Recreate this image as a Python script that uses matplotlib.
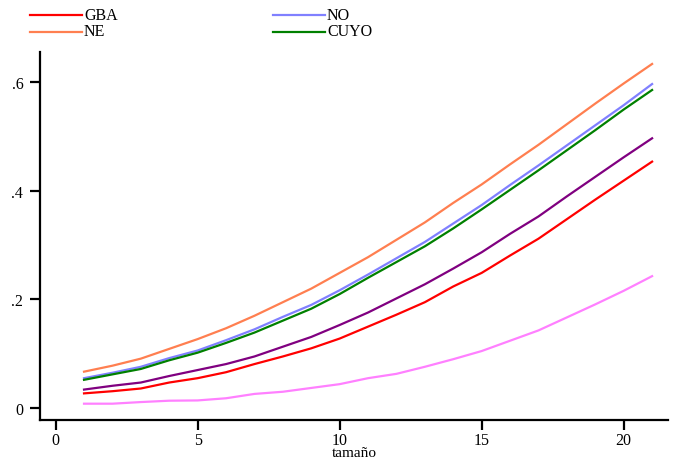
import matplotlib
matplotlib.use("Agg")
import matplotlib.pyplot as plt
from matplotlib.lines import Line2D

x = list(range(1, 22))
gba = [0.027, 0.031, 0.036, 0.047, 0.055, 0.066, 0.081, 0.095, 0.110, 0.128, 0.150,
       0.172, 0.195, 0.224, 0.249, 0.281, 0.312, 0.348, 0.384, 0.419, 0.454]
no = [0.055, 0.065, 0.076, 0.092, 0.106, 0.125, 0.145, 0.168, 0.190, 0.217, 0.246,
      0.276, 0.306, 0.340, 0.374, 0.411, 0.447, 0.484, 0.521, 0.558, 0.597]
ne = [0.067, 0.078, 0.091, 0.109, 0.127, 0.147, 0.170, 0.195, 0.220, 0.249, 0.278,
      0.310, 0.342, 0.378, 0.412, 0.449, 0.485, 0.523, 0.561, 0.598, 0.634]
cuyo = [0.052, 0.062, 0.072, 0.088, 0.102, 0.120, 0.139, 0.161, 0.183, 0.210, 0.240,
        0.269, 0.298, 0.331, 0.366, 0.402, 0.438, 0.475, 0.512, 0.550, 0.586]
purple = [0.034, 0.041, 0.047, 0.059, 0.070, 0.081, 0.095, 0.113, 0.131, 0.153, 0.176,
          0.202, 0.228, 0.257, 0.287, 0.321, 0.353, 0.390, 0.426, 0.462, 0.497]
pink = [0.008, 0.008, 0.011, 0.0135, 0.014, 0.018, 0.026, 0.030, 0.037, 0.044, 0.055,
        0.063, 0.076, 0.090, 0.105, 0.124, 0.143, 0.167, 0.191, 0.216, 0.243]

series = [("GBA", gba, "#FF0000"), ("NO", no, "#8080FF"), ("NE", ne, "#FF7F50"),
          ("CUYO", cuyo, "#008000"), ("", purple, "#800080"), ("", pink, "#FF80FF")]
legend_labels = ["GBA", "NO", "NE", "CUYO"]

xticks = [0, 5, 10, 15, 20]
yticks = [0, 0.2, 0.4, 0.6]
yticklabels = ["0", ".2", ".4", ".6"]

plt.rcParams['font.family'] = ['Liberation Serif', 'DejaVu Serif']
W, H = 675, 460
fig = plt.figure(figsize=(W / 100, H / 100), dpi=100)
ax = fig.add_axes([40 / W, 1 - 420.7 / H, (668 - 40) / W, (420.7 - 53) / H])

for name, vals, col in series:
    ax.plot(x, vals, color=col, lw=1.6, solid_joinstyle='miter')

ax.set_xlim(-0.55, 21.56)
ax.set_ylim(-0.0215, 0.656)
ax.set_xticks(xticks)
ax.set_yticks(yticks)
ax.set_yticklabels(yticklabels)
for s in ["top", "right"]:
    ax.spines[s].set_visible(False)
for s in ["left", "bottom"]:
    ax.spines[s].set_linewidth(1.6)
ax.tick_params(axis='both', length=7, width=1.6, labelsize=11.5, color='black')
ax.tick_params(axis='x', pad=1.5)
ax.tick_params(axis='y', pad=5)
ax.set_xlabel("tamaño", fontsize=11, labelpad=-1)

# legend (top, two columns)
cols = {n: c for n, _, c in series if n}
pos = {"GBA": (30, 82, 15.5), "NE": (30, 82, 32.5), "NO": (273, 325, 15.5), "CUYO": (273, 325, 32.5)}
for lab in legend_labels:
    x0, x1, yy = pos[lab]
    fig.add_artist(Line2D([x0 / W, x1 / W], [1 - yy / H, 1 - yy / H], color=cols[lab], lw=1.6,
                          transform=fig.transFigure))
    fig.text((x1 + 2) / W, 1 - yy / H, lab, fontsize=11.5, va='center', ha='left')

fig.savefig("out.png", dpi=100)
